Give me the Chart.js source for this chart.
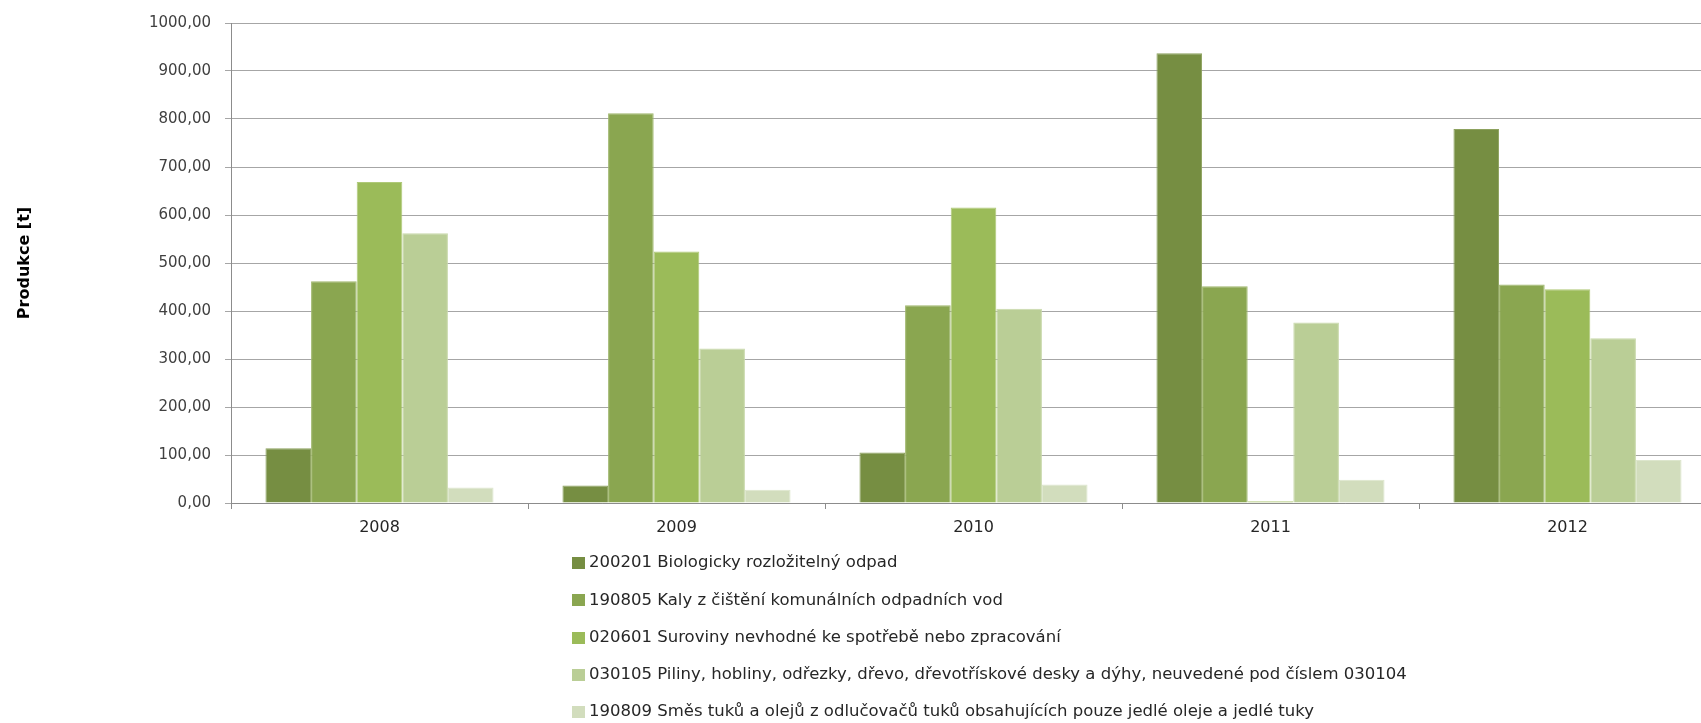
<!DOCTYPE html>
<html><head><meta charset="utf-8">
<script src="https://cdn.jsdelivr.net/npm/chart.js@4"></script>
<style>html,body{margin:0;padding:0;background:#fff;overflow:hidden;width:1701px;height:723px}canvas{display:block}</style>
</head><body>
<canvas id="c" width="1720" height="723" style="width:1720px;height:723px"></canvas>
<script>
const categories = ['2008', '2009', '2010', '2011', '2012'];
const seriesNames = [
  '200201 Biologicky rozložitelný odpad',
  '190805 Kaly z čištění komunálních odpadních vod',
  '020601 Suroviny nevhodné ke spotřebě nebo zpracování',
  '030105 Piliny, hobliny, odřezky, dřevo, dřevotřískové desky a dýhy, neuvedené pod číslem 030104',
  '190809 Směs tuků a olejů z odlučovačů tuků obsahujících pouze jedlé oleje a jedlé tuky'
];
const s200201 = [114, 36.6, 105, 937, 779];
const s190805 = [462, 812, 412, 451.5, 455];
const s020601 = [669, 524, 615.5, 3.5, 445.5];
const s030105 = [562, 322, 404.5, 376, 343];
const s190809 = [32.5, 27.7, 38.7, 48.4, 89.5];
const yTickValues = [0, 100, 200, 300, 400, 500, 600, 700, 800, 900, 1000];
const axisTitle = 'Produkce [t]';

const seriesValues = [s200201, s190805, s020601, s030105, s190809];
const colors = ['#768E42', '#8AA650', '#9BBB59', '#BACE96', '#D2DDBD'];
const edges = ['#8DA25E', '#9FB76C', '#AFC978', '#C9D9AB', '#DDE6CD'];

Chart.defaults.font.family = '"DejaVu Sans", sans-serif';
Chart.defaults.font.size = 15;

const legendPlugin = {
  id: 'rowLegend',
  afterDraw(chart) {
    const ctx = chart.ctx;
    const ca = chart.chartArea;
    ctx.save();
    ctx.font = '16.5px "DejaVu Sans", sans-serif';
    ctx.textBaseline = 'middle';
    ctx.textAlign = 'left';
    chart.data.datasets.forEach((ds, i) => {
      const y = ca.bottom + 60 + i * 37.3;
      ctx.fillStyle = ds.backgroundColor;
      ctx.fillRect(ca.left + 341, Math.round(y - 6), 13, 12);
      ctx.fillStyle = '#262626';
      ctx.fillText(ds.label, ca.left + 358, y);
    });
    ctx.restore();
  }
};

new Chart(document.getElementById('c'), {
  type: 'bar',
  data: {
    labels: categories,
    datasets: seriesNames.map((name, i) => ({
      label: name,
      data: seriesValues[i],
      backgroundColor: colors[i],
      borderColor: edges[i],
      borderWidth: 1,
      categoryPercentage: 0.768,
      barPercentage: 1.0
    }))
  },
  options: {
    responsive: false,
    animation: false,
    devicePixelRatio: 1,
    layout: { padding: { top: 16, right: 4, bottom: 180, left: 0 } },
    plugins: { legend: { display: false }, tooltip: { enabled: false } },
    scales: {
      x: {
        grid: { offset: true, drawOnChartArea: false, tickLength: 6, color: '#8c8c8c' },
        border: { color: '#8c8c8c' },
        ticks: { color: '#262626', font: { size: 16 }, padding: 9 },
        afterFit: s => { s.height = 40; }
      },
      y: {
        min: 0, max: 1000,
        afterBuildTicks: s => { s.ticks = yTickValues.map(v => ({ value: v })); },
        ticks: {
          color: '#404040', font: { size: 15 }, padding: 14,
          callback: v => Number(v).toFixed(2).replace('.', ',')
        },
        grid: { color: '#a6a6a6', tickLength: 6, lineWidth: 1 },
        border: { color: '#8c8c8c' },
        title: { display: true, text: axisTitle, color: '#000', font: { size: 16, weight: 'bold' }, padding: { top: 15, bottom: 0 } },
        afterFit: s => { s.width = 231; }
      }
    }
  },
  plugins: [legendPlugin]
});
</script>
</body></html>
